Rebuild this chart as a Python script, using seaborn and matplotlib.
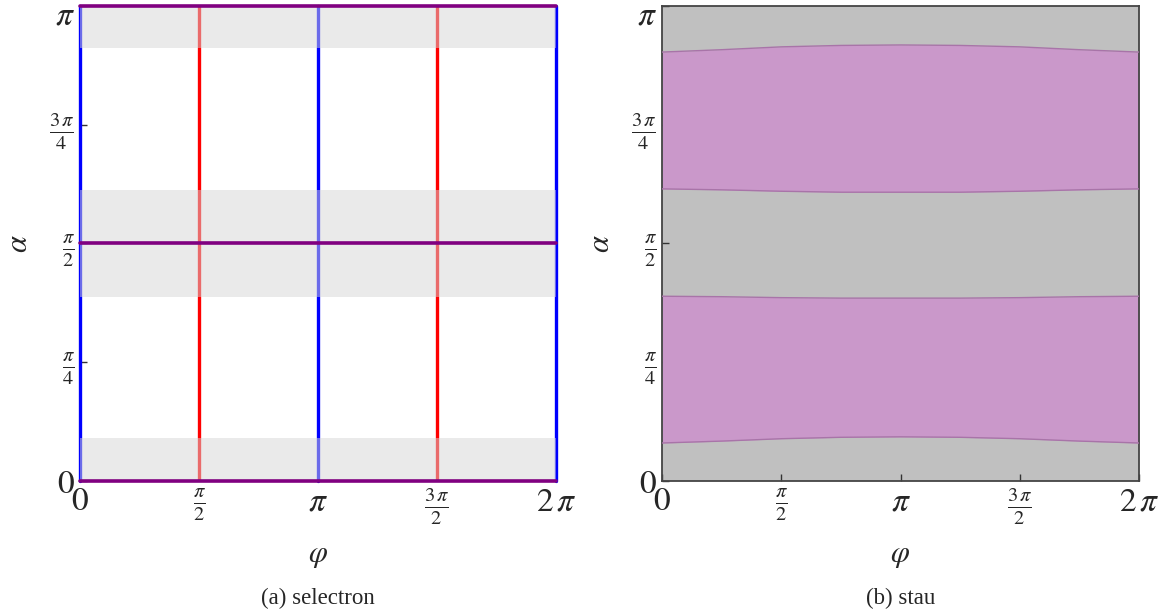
import numpy as np
import pandas as pd
import matplotlib
matplotlib.use("Agg")
import matplotlib.pyplot as plt
from matplotlib.transforms import ScaledTranslation
import seaborn as sns

# ---- data ----
phi_ticks = [0, 0.5, 1.0, 1.5, 2.0]          # in units of pi
phi_tick_labels = [r"$0$", r"$\frac{\pi}{2}$", r"$\pi$", r"$\frac{3\,\pi}{2}$", r"$2\,\pi$"]
alpha_ticks = [0, 0.25, 0.5, 0.75, 1.0]      # in units of pi
alpha_tick_labels = [r"$0$", r"$\frac{\pi}{4}$", r"$\frac{\pi}{2}$", r"$\frac{3\,\pi}{4}$", r"$\pi$"]

# (a) selectron
blue_phi = [0.0, 1.0, 2.0]
red_phi = [0.5, 1.5]
purple_alpha = [0.0, 0.5, 1.0]
band_low = [0.0, 0.387, 0.911]
band_high = [0.0905, 0.613, 1.0]

# (b) stau: boundaries (alpha/pi) sampled at phi/pi
phi_s = [0.0, 0.25, 0.5, 0.75, 1.0, 1.25, 1.5, 1.75, 2.0]
b1 = [0.080, 0.084, 0.089, 0.092, 0.093, 0.092, 0.089, 0.084, 0.080]
b2 = [0.389, 0.388, 0.386, 0.385, 0.385, 0.385, 0.386, 0.388, 0.389]
b3 = [0.615, 0.613, 0.610, 0.608, 0.608, 0.608, 0.610, 0.613, 0.615]
b4 = [0.903, 0.908, 0.914, 0.917, 0.918, 0.917, 0.914, 0.908, 0.903]

sns.set_theme(style="white")
plt.rcParams["font.family"] = ["Liberation Serif", "DejaVu Serif"]
plt.rcParams["mathtext.fontset"] = "stix"

fig = plt.figure(figsize=(11.65, 6.15), dpi=100)
axL = fig.add_axes([80/1165, 1-481/615, 476/1165, 475/615])
axR = fig.add_axes([662/1165, 1-481/615, 477/1165, 475/615])

pi = np.pi

# ---- left panel ----
for x in blue_phi:
    axL.axvline(x*pi, color="#0000ff", lw=2.4, zorder=2, clip_on=False)
for x in red_phi:
    axL.axvline(x*pi, color="#ff0000", lw=2.4, zorder=2)
for lo, hi in zip(band_low, band_high):
    axL.axhspan(lo*pi, hi*pi, color="#d6d6d6", alpha=0.5, lw=0, zorder=3)
for y in purple_alpha:
    axL.axhline(y*pi, color="#800080", lw=2.6, zorder=4, clip_on=False)
for s in axL.spines.values():
    s.set_visible(False)

# ---- right panel ----
df = pd.DataFrame({"phi": np.array(phi_s)*pi, "b1": np.array(b1)*pi, "b2": np.array(b2)*pi,
                   "b3": np.array(b3)*pi, "b4": np.array(b4)*pi})
axR.set_facecolor("#c0c0c0")
axR.fill_between(df["phi"], df["b1"], df["b2"], color="#ca98ca", lw=0, zorder=2)
axR.fill_between(df["phi"], df["b3"], df["b4"], color="#ca98ca", lw=0, zorder=2)
for col in ["b1", "b2", "b3", "b4"]:
    sns.lineplot(data=df, x="phi", y=col, ax=axR, color="#a874a8", lw=1.0, zorder=3)
for s in axR.spines.values():
    s.set_color("#444444")
    s.set_linewidth(1.3)

for ax in (axL, axR):
    ax.set_xlim(0, 2*pi)
    ax.set_ylim(0, pi)
    ax.set_xticks([t*pi for t in phi_ticks])
    ax.set_yticks([t*pi for t in alpha_ticks])
    ax.set_xticklabels(phi_tick_labels)
    ax.set_yticklabels(alpha_tick_labels)
    ax.tick_params(direction="in", length=5, width=1, color="#333333",
                   bottom=True, left=True, top=False, right=False, pad=4)
    for lab in ax.get_xticklabels() + ax.get_yticklabels():
        txt = lab.get_text()
        lab.set_fontsize(24 if "frac" not in txt else 21)
    ytl = ax.get_yticklabels()
    ytl[-1].set_transform(ytl[-1].get_transform() + ScaledTranslation(0, -7/100, fig.dpi_scale_trans))
    ax.set_xlabel(r"$\varphi$", fontsize=22, labelpad=10)
    ax.set_ylabel(r"$\alpha$", fontsize=22, labelpad=11)
    ax.grid(False)

fig.text((80+556)/2/1165, 1-598/615, "(a) selectron", ha="center", va="center", fontsize=16.5)
fig.text((662+1139)/2/1165, 1-598/615, "(b) stau", ha="center", va="center", fontsize=16.5)

fig.savefig("out.png", dpi=100)
